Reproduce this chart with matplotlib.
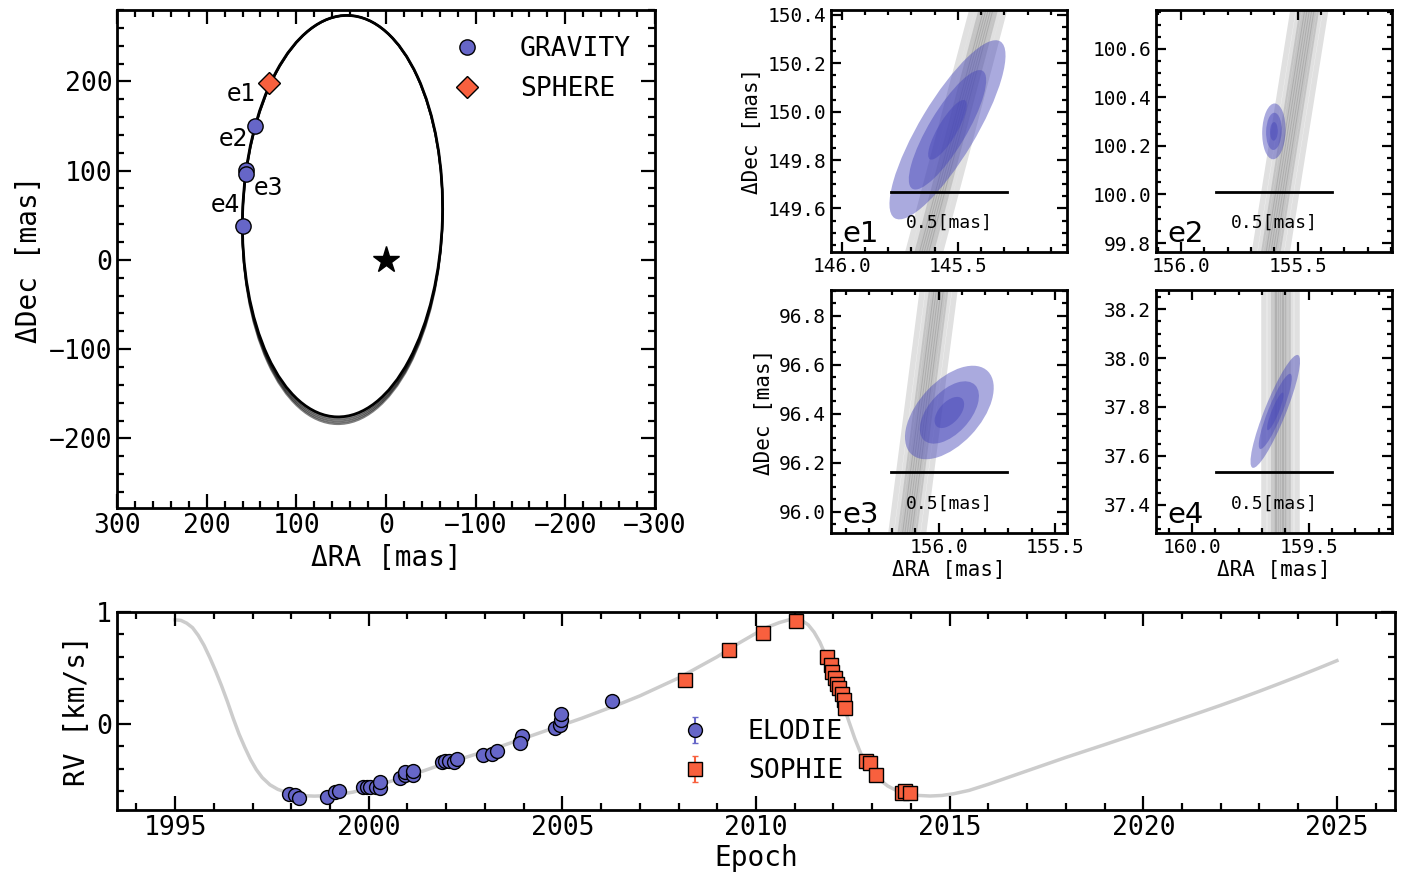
import matplotlib.pyplot as plt
from matplotlib.patches import Ellipse
from matplotlib.ticker import MultipleLocator, FormatStrFormatter

plt.rcParams['font.family'] = ['DejaVu Sans Mono']

# relative astrometry [mas]
grav_ra = [145.545, 155.602, 155.954, 159.643]
grav_dec = [149.925, 100.26, 96.405, 37.782]
sphere_ra = [131.0]
sphere_dec = [198.0]
epoch_names = ['e1', 'e2', 'e3', 'e4']

# projected orbit: centre, full axes [mas], tilt [deg]
orbit_center = (48.5, 49.0)
orbit_minor = 223.0
orbit_major = 450.0
orbit_tilt = 1.65
orbit_spread = [0.0, 2.0, 4.0, 6.0, 8.0]

# GRAVITY 3-sigma ellipses (semi axes [mas], angle [deg])
ell_a = [0.43, 0.115, 0.236, 0.25]
ell_b = [0.12, 0.05, 0.131, 0.045]
ell_ang = [122, 92, 135, 113]

# zoom windows and orbit tracks through them
zoom_xlim = [(146.046, 145.031), (156.107, 155.096), (156.463, 155.448), (160.154, 159.143)]
zoom_ylim = [(149.42, 150.42), (99.763, 100.76), (95.913, 96.905), (37.285, 38.278)]
track_ra_bot = [145.645, 155.615, 156.135, 159.62]
track_ra_top = [145.37, 155.45, 156.0, 159.62]
track_offsets = [-0.07, -0.045, -0.03, -0.02, -0.01, 0.0, 0.01, 0.02, 0.03, 0.045, 0.07]

# radial velocities [km/s]
elodie_t = [1997.93, 1998.1, 1998.2, 1998.92, 1999.13, 1999.22, 1999.86, 1999.95, 2000.03,
            2000.2, 2000.29, 2000.29, 2000.81, 2000.94, 2000.94, 2001.15, 2001.15,
            2001.88, 2001.97, 2002.06, 2002.19, 2002.27, 2002.96, 2003.18, 2003.3,
            2003.9, 2003.95, 2003.9, 2004.81, 2004.94, 2004.96, 2004.96, 2006.27]
elodie_rv = [-0.625, -0.634, -0.66, -0.65, -0.61, -0.60, -0.565, -0.56, -0.56,
             -0.56, -0.57, -0.52, -0.485, -0.455, -0.43, -0.455, -0.42,
             -0.34, -0.33, -0.33, -0.34, -0.31, -0.28, -0.27, -0.24,
             -0.16, -0.11, -0.17, -0.04, -0.01, 0.036, 0.09, 0.20]
sophie_t = [2008.17, 2009.3, 2010.17, 2011.03, 2011.84, 2011.93, 2011.97, 2012.04, 2012.1,
            2012.15, 2012.21, 2012.26, 2012.3, 2012.84, 2012.94, 2013.11, 2013.76,
            2013.85, 2013.98]
sophie_rv = [0.39, 0.66, 0.815, 0.92, 0.60, 0.527, 0.467, 0.41, 0.36,
             0.32, 0.27, 0.21, 0.145, -0.33, -0.35, -0.455, -0.62,
             -0.60, -0.62]
elodie_err = 0.012
sophie_err = 0.006

# orbital model curve
model_t = [1995.0, 1995.15, 1995.3, 1995.45, 1995.6, 1995.75, 1995.9, 1996.05, 1996.2,
           1996.35, 1996.5, 1996.65, 1996.8, 1996.95, 1997.1, 1997.25, 1997.45, 1997.65,
           1997.85, 1998.05, 1998.3, 1998.6, 1998.9, 1999.2, 1999.6, 2000.0, 2000.5,
           2001.0, 2001.5, 2002.0, 2002.5, 2003.0, 2003.5, 2004.0, 2004.5, 2005.0, 2005.5,
           2006.0, 2006.5, 2007.0, 2007.5, 2008.0, 2008.5, 2009.0, 2009.5, 2010.0, 2010.3,
           2010.6, 2010.85, 2011.05, 2011.2, 2011.35, 2011.5, 2011.65, 2011.8, 2011.95,
           2012.1, 2012.25, 2012.4, 2012.55, 2012.7, 2012.85, 2013.0, 2013.2, 2013.4,
           2013.65, 2013.9, 2014.2, 2014.5, 2014.8, 2015.1, 2015.5, 2016.0, 2016.5,
           2017.0, 2017.5, 2018.0, 2018.5, 2019.0, 2019.5, 2020.0, 2020.5, 2021.0,
           2021.5, 2022.0, 2022.5, 2023.0, 2023.5, 2024.0, 2024.5, 2025.0]
model_rv = [0.93, 0.925, 0.90, 0.86, 0.79, 0.70, 0.59, 0.47, 0.34,
            0.20, 0.05, -0.09, -0.21, -0.32, -0.41, -0.48, -0.545, -0.585,
            -0.61, -0.63, -0.642, -0.646, -0.642, -0.632, -0.61, -0.57, -0.52,
            -0.47, -0.41, -0.35, -0.30, -0.245, -0.19, -0.13, -0.07, -0.01, 0.05,
            0.115, 0.18, 0.25, 0.33, 0.41, 0.505, 0.60, 0.71, 0.81, 0.865,
            0.905, 0.93, 0.935, 0.92, 0.885, 0.82, 0.73, 0.61, 0.47,
            0.32, 0.17, 0.02, -0.13, -0.26, -0.35, -0.43, -0.50, -0.555,
            -0.60, -0.625, -0.64, -0.645, -0.64, -0.625, -0.595, -0.54, -0.48,
            -0.42, -0.36, -0.30, -0.243, -0.186, -0.128, -0.07, -0.012, 0.047,
            0.106, 0.166, 0.228, 0.292, 0.358, 0.425, 0.494, 0.565]

BLUE = '#6666c8'
RED = '#f8603e'
SW = 2.0


def style(ax, size, lmaj=8, lmin=4):
    for s in ax.spines.values():
        s.set_linewidth(SW)
    ax.tick_params(which='both', direction='in', top=True, right=True, width=1.6,
                   labelsize=size)
    ax.tick_params(which='major', length=lmaj)
    ax.tick_params(which='minor', length=lmin)


W, H = 1415, 880
fig = plt.figure(figsize=(W / 100, H / 100), dpi=100)


def box(l, r, t, b):
    return [l / W, 1 - b / H, (r - l) / W, (b - t) / H]


# ---- main orbit panel
ax = fig.add_axes(box(117, 655, 10, 508))
for i, d in enumerate(orbit_spread):
    e = Ellipse((orbit_center[0], orbit_center[1] - d / 2), orbit_minor, orbit_major + d,
                angle=orbit_tilt, fill=False, edgecolor='k', lw=2.0 if i == 0 else 1.5,
                alpha=1.0 if i == 0 else 0.5)
    ax.add_patch(e)
ax.plot(grav_ra, grav_dec, 'o', color=BLUE, mec='k', ms=11, mew=1, label='GRAVITY', zorder=5)
ax.plot(sphere_ra, sphere_dec, 'D', color=RED, mec='k', ms=11, mew=1, label='SPHERE', zorder=5)
ax.plot(0, 0, '*', color='k', ms=20)
lab_pos = [(161, 186), (170, 135), (131, 81), (179, 62)]
for name, (x, y) in zip(epoch_names, lab_pos):
    ax.text(x, y, name, fontsize=17, family='DejaVu Sans', ha='center', va='center')
ax.set_xlim(300, -300)
ax.set_ylim(-278, 280)
ax.xaxis.set_major_locator(MultipleLocator(100))
ax.xaxis.set_minor_locator(MultipleLocator(20))
ax.yaxis.set_major_locator(MultipleLocator(100))
ax.yaxis.set_minor_locator(MultipleLocator(20))
style(ax, 19, 10, 5)
ax.set_xlabel('ΔRA [mas]', fontsize=20)
ax.set_ylabel('ΔDec [mas]', fontsize=20)
ax.legend(loc='upper right', bbox_to_anchor=(0.985, 0.98), frameon=False, fontsize=19,
          handletextpad=1.0, borderaxespad=0.2, labelspacing=0.55)

# ---- zoom panels
zboxes = [box(831, 1067, 10, 252), box(1156, 1392, 10, 252),
          box(831, 1067, 290, 533), box(1156, 1392, 290, 533)]
for i in range(4):
    az = fig.add_axes(zboxes[i])
    y0, y1 = zoom_ylim[i]
    for off in track_offsets:
        az.plot([track_ra_bot[i] + off, track_ra_top[i] + off], [y0, y1], color='k',
                lw=4, alpha=0.12, solid_capstyle='butt', zorder=1)
    for k in (3, 2, 1):
        az.add_patch(Ellipse((grav_ra[i], grav_dec[i]), 2 * ell_a[i] * k / 3,
                             2 * ell_b[i] * k / 3, angle=ell_ang[i],
                             facecolor='#4646b9', edgecolor='none', alpha=0.46, zorder=3))
    az.set_xlim(zoom_xlim[i])
    az.set_ylim(zoom_ylim[i])
    xm = 0.5 * (zoom_xlim[i][0] + zoom_xlim[i][1])
    ys = y0 + 0.25 * (y1 - y0)
    az.plot([xm + 0.25, xm - 0.25], [ys, ys], color='k', lw=2, zorder=4)
    az.text(0.5, 0.12, '0.5[mas]', transform=az.transAxes, ha='center', va='center',
            fontsize=13)
    az.text(0.05, 0.015, epoch_names[i], transform=az.transAxes, ha='left', va='bottom',
            fontsize=21, family='DejaVu Sans')
    az.xaxis.set_major_locator(MultipleLocator(0.5))
    az.xaxis.set_minor_locator(MultipleLocator(0.1))
    az.yaxis.set_major_locator(MultipleLocator(0.2))
    az.yaxis.set_minor_locator(MultipleLocator(0.05))
    az.xaxis.set_major_formatter(FormatStrFormatter('%.1f'))
    az.yaxis.set_major_formatter(FormatStrFormatter('%.1f'))
    style(az, 14, 7, 3.5)
    if i in (0, 2):
        az.set_ylabel('ΔDec [mas]', fontsize=15)
    if i in (2, 3):
        az.set_xlabel('ΔRA [mas]', fontsize=15, labelpad=2)

# ---- RV panel
ar = fig.add_axes(box(117, 1395, 612, 810))
ar.plot(model_t, model_rv, color='#cccccc', lw=2.5, zorder=1)
ar.errorbar(elodie_t, elodie_rv, yerr=elodie_err, fmt='o', color=BLUE, mec='k', mew=1,
            ms=10, ecolor=BLUE, capsize=2, label='ELODIE', zorder=3)
ar.errorbar(sophie_t, sophie_rv, yerr=sophie_err, fmt='s', color=RED, mec='k', mew=1,
            ms=9.5, ecolor=RED, capsize=2, label='SOPHIE', zorder=3)
ar.set_xlim(1993.5, 2026.5)
ar.set_ylim(-0.77, 1.0)
ar.xaxis.set_major_locator(MultipleLocator(5))
ar.xaxis.set_minor_locator(MultipleLocator(1))
ar.yaxis.set_major_locator(MultipleLocator(1))
ar.yaxis.set_minor_locator(MultipleLocator(0.2))
style(ar, 19, 10, 5)
ar.set_xlabel('Epoch', fontsize=20, labelpad=2)
ar.set_ylabel('RV [km/s]', fontsize=20)
ar.legend(loc='center', bbox_to_anchor=(0.50, 0.295), frameon=False, fontsize=19,
          handletextpad=1.0, labelspacing=0.5)

fig.savefig('out.png', dpi=100)
